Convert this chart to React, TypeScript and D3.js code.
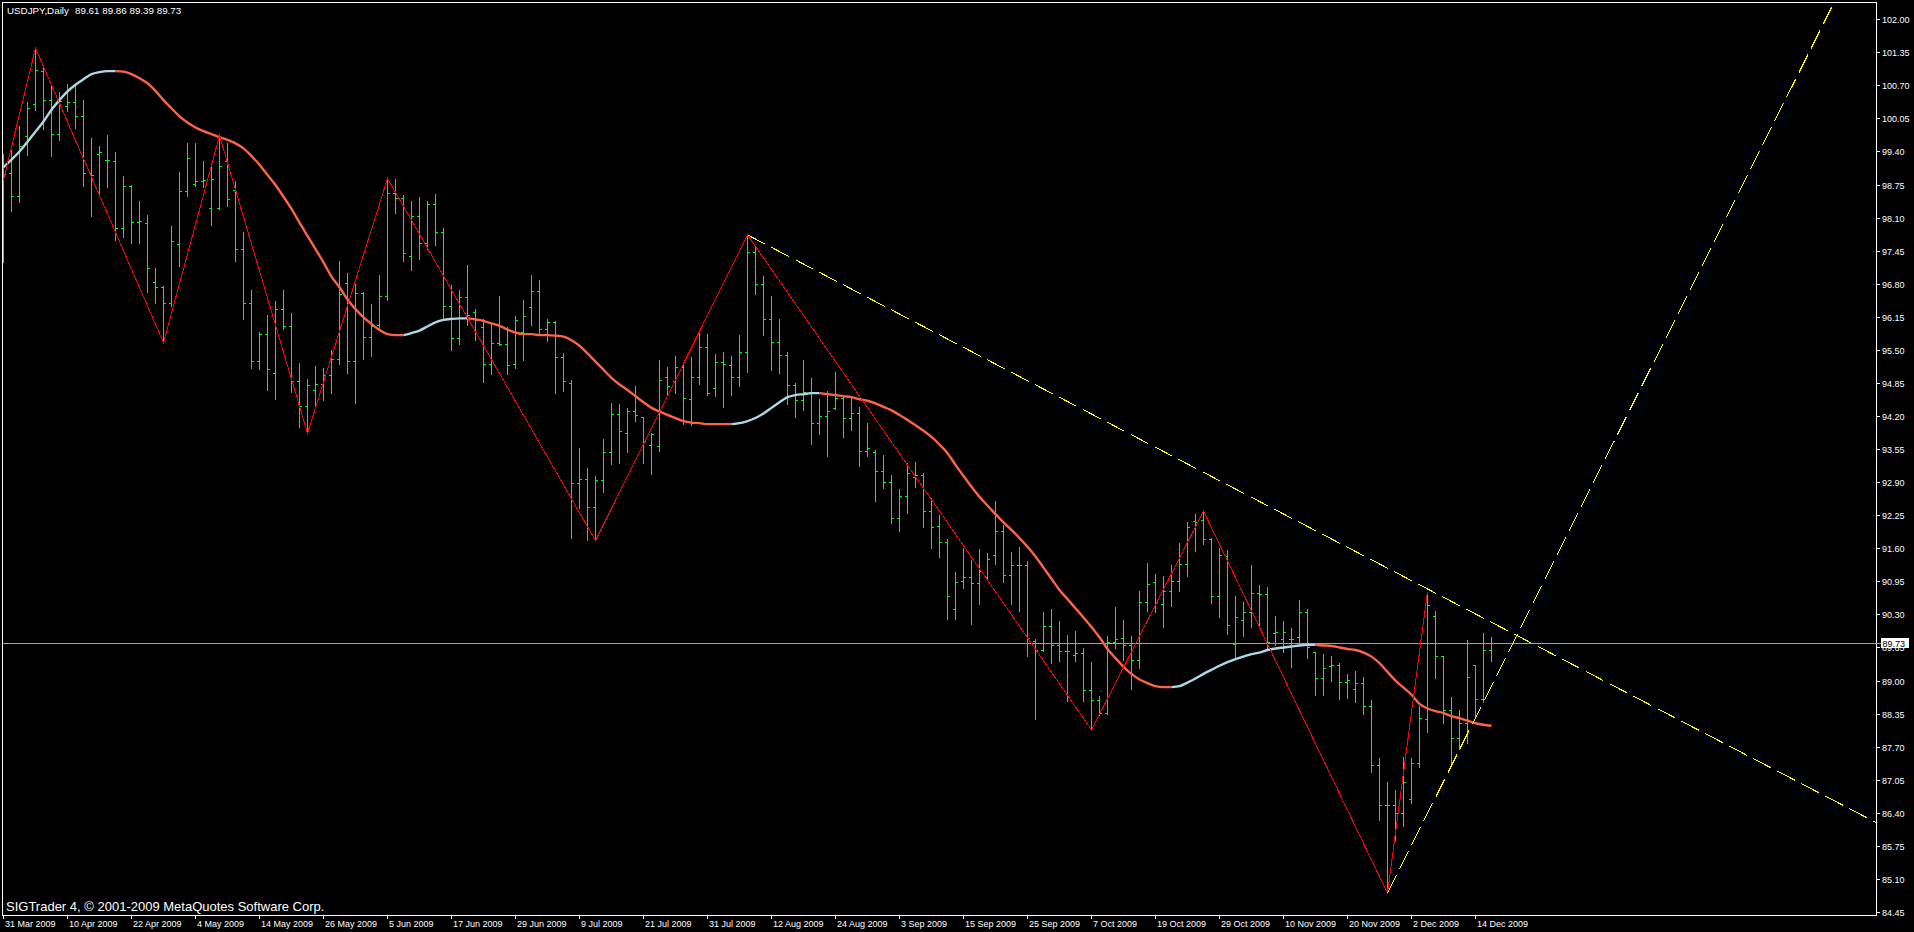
import React from "react";
import * as d3 from "d3";

const WIDTH = 1914;
const HEIGHT = 932;

// ---- OHLC (daily bars, 31 Mar 2009 .. 16 Dec 2009) ----
const openP = [
  97.60,98.97,98.53,99.71,100.33,100.99,100.41,99.75,100.30,100.38,
  100.10,98.97,99.35,99.23,99.21,97.89,98.72,98.01,97.99,96.83,
  96.74,96.43,97.58,98.62,98.77,98.81,98.28,98.29,99.21,98.64,
  97.48,96.43,95.28,95.81,95.04,96.30,95.96,94.88,94.40,94.71,
  94.83,95.01,95.33,96.81,95.28,96.61,95.76,95.98,96.56,98.58,
  98.48,97.35,98.13,97.60,98.36,97.81,96.37,95.73,96.53,96.24,
  95.94,95.22,95.64,95.62,95.23,95.86,96.34,96.65,95.91,96.04,
  95.35,94.85,92.88,92.96,92.42,92.94,93.50,94.24,93.87,94.29,
  94.19,93.63,93.62,94.96,94.89,95.17,94.53,94.97,95.56,94.76,
  95.27,95.20,94.96,95.45,97.43,96.80,96.10,95.65,95.39,94.81,
  94.52,94.68,94.06,94.20,94.36,94.56,94.17,94.25,93.52,93.49,
  93.11,92.91,92.19,92.63,93.01,93.05,92.33,92.04,91.72,90.40,
  90.96,91.04,90.91,91.04,91.46,91.94,91.08,91.28,91.27,89.78,
  89.60,90.08,89.70,89.58,89.50,89.54,88.81,88.62,88.37,89.76,
  89.83,89.69,89.40,90.54,90.93,90.51,90.76,90.96,91.29,92.14,
  92.16,91.78,90.67,91.44,89.72,90.19,90.34,90.73,90.70,89.94,
  89.82,89.82,89.86,90.35,89.57,89.04,89.29,89.31,88.98,88.83,
  88.96,88.50,87.34,86.55,86.55,86.39,86.67,87.37,88.24,90.26,
  89.49,88.43,87.88,88.17,89.31,88.64,89.61
];
const highP = [
  99.36,99.43,99.90,100.38,101.43,101.07,100.69,100.56,100.73,100.71,
  100.41,99.67,99.50,99.72,99.39,98.91,98.74,98.43,98.15,97.11,
  96.76,97.94,99.00,99.57,99.57,99.22,99.10,99.71,99.57,98.82,
  97.82,96.68,95.85,96.19,96.47,96.68,96.23,95.25,94.92,95.18,
  95.15,95.49,97.24,97.02,96.80,96.63,96.40,96.97,98.87,98.86,
  98.55,98.43,98.51,98.43,98.57,97.89,96.78,96.68,97.17,96.30,
  96.11,96.00,96.56,95.94,96.17,96.49,96.97,96.87,96.10,96.06,
  95.43,94.91,93.58,93.17,93.02,93.74,94.45,94.43,94.35,94.79,
  94.19,93.86,95.30,95.17,95.38,95.27,95.35,95.88,95.81,95.42,
  95.45,95.38,95.79,97.76,97.55,96.95,96.55,96.10,95.45,94.84,
  95.30,94.95,94.53,94.70,95.06,94.57,94.55,94.37,94.06,93.53,
  93.43,93.05,92.77,93.27,93.29,93.07,92.58,92.25,91.78,91.13,
  91.61,91.36,91.58,91.51,92.53,92.06,91.52,91.62,91.35,89.81,
  90.35,90.41,90.17,89.90,89.97,89.63,89.37,88.70,89.88,90.45,
  90.19,89.88,90.76,91.32,91.09,91.06,91.27,91.71,92.11,92.27,
  92.33,91.80,91.61,91.57,90.66,90.54,91.28,90.87,90.83,90.27,
  90.17,90.03,90.58,90.40,89.57,89.52,89.48,89.34,89.12,89.19,
  89.06,88.62,87.47,87.00,86.85,87.50,87.47,88.49,90.75,90.37,
  89.49,88.68,88.43,89.80,89.31,89.94,89.86
];
const lowP = [
  97.22,98.22,98.40,99.33,100.22,99.84,99.31,99.63,100.20,99.87,
  98.73,98.14,98.58,98.71,97.65,97.71,97.60,97.61,96.63,96.43,
  95.64,96.36,97.14,98.53,98.73,98.71,97.96,98.27,98.33,97.25,
  96.10,95.15,95.12,94.71,94.54,95.91,94.68,93.99,93.86,94.40,
  94.52,94.66,95.22,95.04,94.45,95.33,95.37,95.89,96.48,98.20,
  97.24,97.07,97.29,97.48,97.56,96.09,95.50,95.62,95.99,95.69,
  94.86,95.02,95.60,95.03,95.15,95.30,95.99,95.79,95.68,94.66,
  94.69,91.80,92.39,91.76,91.75,92.71,93.25,93.28,93.50,94.10,
  93.28,93.06,93.51,94.61,94.66,94.04,94.02,94.83,94.61,94.59,
  94.37,94.61,94.78,95.07,96.60,95.80,95.11,95.04,94.43,94.19,
  94.32,93.65,93.84,93.41,94.34,93.78,93.93,93.21,93.41,92.53,
  92.79,92.09,91.93,92.30,92.81,92.01,91.61,91.42,90.20,90.20,
  90.81,90.12,90.50,90.99,91.30,90.94,90.50,90.37,89.49,88.24,
  89.59,89.34,89.39,88.60,89.38,88.60,88.03,88.32,88.34,89.63,
  89.40,88.83,89.25,90.37,90.35,90.06,90.47,90.76,91.06,91.55,
  91.68,90.53,90.24,89.91,89.42,89.88,90.05,90.03,89.60,89.70,
  89.57,89.27,89.70,89.45,88.72,88.72,88.99,88.63,88.65,88.57,
  88.34,87.21,86.25,84.82,85.87,86.15,86.59,87.30,87.98,89.04,
  88.17,87.37,87.65,87.78,88.30,88.58,89.39
];
const closeP = [
  98.95,98.53,99.51,100.25,101.00,100.41,99.75,100.39,100.38,100.10,
  98.97,98.93,99.38,99.24,97.89,98.72,98.01,98.03,97.10,96.74,
  96.43,97.64,98.62,99.27,98.81,98.84,98.85,99.12,98.47,97.48,
  96.43,95.28,95.81,95.12,96.30,95.96,94.88,94.40,94.81,94.83,
  95.01,95.33,96.59,95.28,96.61,95.76,95.96,96.56,98.58,98.48,
  97.40,98.13,97.60,98.36,97.81,96.37,95.73,96.53,96.19,96.08,
  95.22,95.64,95.62,95.20,96.08,96.17,96.66,95.91,96.04,95.35,
  94.88,92.88,92.96,92.42,92.94,93.50,94.24,93.91,94.29,94.21,
  93.71,93.84,94.91,94.78,95.17,94.55,94.97,95.56,94.65,95.27,
  95.22,94.96,95.45,97.43,96.80,96.10,95.65,95.39,94.81,94.52,
  94.68,94.06,94.20,94.30,94.56,94.17,94.25,93.52,93.57,93.11,
  92.91,92.19,92.63,93.07,93.05,92.33,92.01,91.72,90.66,90.93,
  91.04,90.91,91.15,91.38,91.94,91.08,91.28,91.27,89.83,89.60,
  90.08,89.70,89.58,89.58,89.54,88.81,88.62,88.37,89.76,89.82,
  89.70,89.40,90.54,90.89,90.55,90.76,90.96,91.29,92.01,92.11,
  91.78,90.67,91.46,90.09,90.24,90.34,90.73,90.70,89.76,89.95,
  89.95,89.81,90.35,89.65,89.04,89.25,89.31,88.98,89.02,88.96,
  88.50,87.34,86.55,86.55,86.39,87.00,87.37,88.26,90.49,89.49,
  88.43,87.88,88.17,89.06,88.64,89.61,89.73
];

// ---- smoothed moving average (one value per bar) ----
const maValues = [
  99.09,99.24,99.40,99.59,99.79,99.99,100.22,100.41,100.58,100.71,
  100.82,100.92,100.96,100.98,100.98,100.97,100.92,100.84,100.74,100.59,
  100.41,100.25,100.09,99.97,99.87,99.80,99.74,99.68,99.63,99.56,
  99.46,99.31,99.14,98.94,98.74,98.51,98.27,98.00,97.74,97.48,
  97.22,96.94,96.73,96.49,96.30,96.14,96.01,95.89,95.81,95.79,
  95.79,95.83,95.88,95.96,96.04,96.09,96.11,96.12,96.12,96.10,
  96.07,96.02,95.97,95.90,95.84,95.81,95.81,95.79,95.79,95.78,
  95.76,95.69,95.58,95.43,95.27,95.11,94.95,94.82,94.71,94.59,
  94.47,94.36,94.29,94.22,94.16,94.10,94.07,94.06,94.04,94.04,
  94.04,94.04,94.06,94.10,94.16,94.25,94.36,94.47,94.57,94.61,
  94.63,94.65,94.65,94.63,94.61,94.59,94.57,94.53,94.50,94.45,
  94.38,94.31,94.22,94.12,94.02,93.91,93.79,93.64,93.47,93.24,
  93.02,92.81,92.61,92.44,92.27,92.11,91.96,91.80,91.63,91.44,
  91.22,91.00,90.78,90.60,90.42,90.24,90.05,89.85,89.62,89.44,
  89.27,89.13,89.02,88.95,88.89,88.87,88.87,88.89,88.96,89.04,
  89.13,89.21,89.29,89.36,89.42,89.47,89.52,89.55,89.60,89.63,
  89.65,89.67,89.69,89.70,89.70,89.69,89.68,89.65,89.62,89.60,
  89.55,89.47,89.34,89.17,89.00,88.86,88.72,88.54,88.45,88.40,
  88.36,88.30,88.26,88.21,88.16,88.13,88.11
];

// ---- ZigZag pivots ----
const zigzagBars = [0, 4, 20, 27, 38, 48, 74, 93, 136, 150, 173, 178];
const zigzagPrices = [98.84, 101.43, 95.64, 99.71, 93.86, 98.87, 91.75, 97.76, 88.03, 92.33, 84.82, 90.75];

// ---- trend lines (two anchors each, extended to the right) ----
const downTrendBars = [93, 178];
const downTrendPrices = [97.76, 90.8];
const upTrendBars = [173, 184];
const upTrendPrices = [84.82, 88.27];

const bidPrice = 89.73;
const titleText = "USDJPY,Daily";
const titleValues = "89.61 89.86 89.39 89.73";
const copyrightText = "SIGTrader 4, \u00A9 2001-2009 MetaQuotes Software Corp.";

const priceTicks = [
  "102.00","101.35","100.70","100.05","99.40","98.75","98.10","97.45","96.80","96.15",
  "95.50","94.85","94.20","93.55","92.90","92.25","91.60","90.95","90.30","89.65",
  "89.00","88.35","87.70","87.05","86.40","85.75","85.10","84.45"
];

const dateLabels = [
  "31 Mar 2009","10 Apr 2009","22 Apr 2009","4 May 2009","14 May 2009","26 May 2009",
  "5 Jun 2009","17 Jun 2009","29 Jun 2009","9 Jul 2009","21 Jul 2009","31 Jul 2009",
  "12 Aug 2009","24 Aug 2009","3 Sep 2009","15 Sep 2009","25 Sep 2009","7 Oct 2009",
  "19 Oct 2009","29 Oct 2009","10 Nov 2009","20 Nov 2009","2 Dec 2009","14 Dec 2009"
];
const dateLabelBars = [0,8,16,24,32,40,48,56,64,72,80,88,96,104,112,120,128,136,144,152,160,168,176,184];

const FONT = "'Liberation Sans', Arial, sans-serif";
const BAR_COLOR = "#00ff00";
const MA_UP = "#add8e6";
const MA_DOWN = "#ff6347";

export default function App() {
  const plot = { left: 2, top: 2, right: 1876, bottom: 915 };
  const nBars = closeP.length;
  const x = d3.scaleLinear().domain([0, nBars - 1]).range([3, 3 + 8 * (nBars - 1)]);
  const y = d3.scaleLinear().domain([84.45, 102.0]).range([912, 19.2]);

  // MA colour runs by slope
  const runs: { up: boolean; pts: [number, number][] }[] = [];
  let prevUp = true;
  let cur: { up: boolean; pts: [number, number][] } | null = null;
  for (let i = 1; i < maValues.length; i++) {
    const d = maValues[i] - maValues[i - 1];
    const up = d > 0 ? true : d < 0 ? false : prevUp;
    if (!cur || cur.up !== up) {
      cur = { up, pts: [[i - 1, maValues[i - 1]]] };
      runs.push(cur);
    }
    cur.pts.push([i, maValues[i]]);
    prevUp = up;
  }
  const maLine = d3
    .line<[number, number]>()
    .x((d) => x(d[0]) + 0.5)
    .y((d) => y(d[1]))
    .curve(d3.curveMonotoneX);

  const zz = d3
    .line<number>()
    .x((d) => x(zigzagBars[d]) + 0.5)
    .y((d) => y(zigzagPrices[d]));
  const zzPath = zz(d3.range(zigzagBars.length)) || "";

  const ray = (bars: number[], prices: number[]) => {
    const x1 = x(bars[0]) + 0.5, y1 = y(prices[0]);
    const x2 = x(bars[1]) + 0.5, y2 = y(prices[1]);
    const k = (y2 - y1) / (x2 - x1);
    const xe = plot.right + 20;
    return { x1, y1, x2: xe, y2: y1 + k * (xe - x1) };
  };
  const dt = ray(downTrendBars, downTrendPrices);
  const ut = ray(upTrendBars, upTrendPrices);

  const bidY = Math.round(y(bidPrice)) + 0.5;

  return (
    <div style={{ position: "fixed", left: 0, top: 0, width: WIDTH, height: HEIGHT, background: "#000" }}>
      <svg width={WIDTH} height={HEIGHT} style={{ display: "block" }}>
        <defs>
          <clipPath id="plotClip">
            <rect x={plot.left + 1} y={plot.top + 1} width={plot.right - plot.left - 1} height={plot.bottom - plot.top - 1} />
          </clipPath>
        </defs>
        <rect x={0} y={0} width={WIDTH} height={HEIGHT} fill="#000" />

        <g clipPath="url(#plotClip)">
          {/* bid line */}
          <line x1={plot.left} x2={plot.right} y1={bidY} y2={bidY} stroke="#9aa3ad" strokeWidth={1} shapeRendering="crispEdges" />

          {/* OHLC bars */}
          <g fill={BAR_COLOR} shapeRendering="crispEdges">
            {closeP.map((c, i) => {
              const xi = Math.round(x(i));
              const yh = Math.round(y(highP[i]));
              const yl = Math.round(y(lowP[i]));
              const yo = Math.round(y(openP[i]));
              const yc = Math.round(y(c));
              return (
                <g key={i}>
                  <rect x={xi} y={yh} width={1} height={Math.max(1, yl - yh + 1)} />
                  <rect x={xi - 2} y={yo} width={2} height={1} />
                  <rect x={xi + 1} y={yc} width={2} height={1} />
                </g>
              );
            })}
          </g>

          {/* moving average */}
          {runs.map((r, k) => (
            <path
              key={k}
              d={maLine(r.pts) || ""}
              fill="none"
              stroke={r.up ? MA_UP : MA_DOWN}
              strokeWidth={2.4}
              strokeLinecap="butt"
            />
          ))}

          {/* zigzag */}
          <path d={zzPath} fill="none" stroke="#ff0000" strokeWidth={1} shapeRendering="crispEdges" />

          {/* trend lines */}
          <line x1={dt.x1} y1={dt.y1} x2={dt.x2} y2={dt.y2} stroke="#ffff00" strokeWidth={1} strokeDasharray="20 7" shapeRendering="crispEdges" />
          <line x1={ut.x1} y1={ut.y1} x2={ut.x2} y2={ut.y2} stroke="#ffff00" strokeWidth={1} strokeDasharray="20 7" shapeRendering="crispEdges" />
        </g>

        {/* frame */}
        <rect
          x={plot.left + 0.5}
          y={plot.top + 0.5}
          width={plot.right - plot.left}
          height={plot.bottom - plot.top}
          fill="none"
          stroke="#fff"
          strokeWidth={1}
          shapeRendering="crispEdges"
        />

        {/* price axis */}
        <g fontFamily={FONT} fontSize={9} fill="#fff">
          {priceTicks.map((t) => {
            const yy = Math.round(y(+t)) + 0.5;
            return (
              <g key={t}>
                <line x1={plot.right + 1} x2={plot.right + 4} y1={yy} y2={yy} stroke="#fff" shapeRendering="crispEdges" />
                <text x={plot.right + 6} y={yy + 3.3}>{t}</text>
              </g>
            );
          })}
        </g>

        {/* bid price label */}
        <line x1={plot.right} x2={plot.right + 5} y1={bidY} y2={bidY} stroke="#9aa3ad" shapeRendering="crispEdges" />
        <rect x={plot.right + 5} y={bidY - 5.5} width={28} height={10} fill="#fff" />
        <text x={plot.right + 6.5} y={bidY + 3.3} fontFamily={FONT} fontSize={9} fill="#000">
          {bidPrice.toFixed(2)}
        </text>

        {/* date axis */}
        <g fontFamily={FONT} fontSize={9} fill="#fff">
          {dateLabels.map((lab, k) => {
            const xx = Math.round(x(dateLabelBars[k])) + 0.5;
            return (
              <g key={lab}>
                <line x1={xx} x2={xx} y1={plot.bottom} y2={plot.bottom + 4} stroke="#fff" shapeRendering="crispEdges" />
                <text x={xx + 1.5} y={927}>{lab}</text>
              </g>
            );
          })}
        </g>

        {/* texts */}
        <text x={7} y={14} fontFamily={FONT} fontSize={9.8} fill="#fff">{titleText}</text>
        <text x={75} y={14} fontFamily={FONT} fontSize={9.8} fill="#fff">{titleValues}</text>
        <text x={6} y={911} fontFamily={FONT} fontSize={13} fill="#fff">{copyrightText}</text>
      </svg>
    </div>
  );
}
